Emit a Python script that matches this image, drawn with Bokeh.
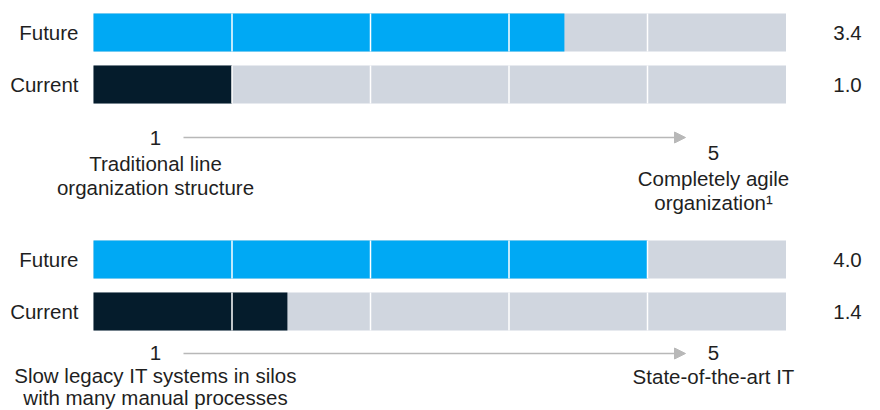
from bokeh.plotting import figure
from bokeh.models import Range1d, Arrow, NormalHead
from bokeh.embed import file_html
from bokeh.resources import INLINE
from bokeh.core.properties import value

# ---- data ----
categories = ["Future", "Current"]
org_scores = [3.4, 1.0]
it_scores = [4.0, 1.4]
scale_ticks = ["1", "5"]
org_min_label = "Traditional line\norganization structure"
org_max_label = "Completely agile\norganization\u00b9"
it_min_label = "Slow legacy IT systems in silos\nwith many manual processes"
it_max_label = "State-of-the-art IT"
scale_max = 5
grid_values = [1, 2, 3, 4]

# ---- layout (pixels) ----
W, H = 880, 410
X0 = 93.0          # pixel where score 0 sits
U = 138.5          # pixels per score unit
FONT = value("Liberation Sans")
TXT = "#1f1f1f"
BLUE = "#00a9f4"
NAVY = "#051c2c"
GREY = "#d0d6df"
ARROW_C = "#b8b8b8"
FS = "20.5px"


def px(x):
    return (x - X0) / U


p = figure(width=W, height=H, output_backend="svg", toolbar_location=None,
           x_range=Range1d(px(0), px(W)), y_range=Range1d(H, 0),
           min_border=0, outline_line_color=None)
p.axis.visible = False
p.grid.visible = False
p.background_fill_color = "white"
p.border_fill_color = "white"

BAR_H = 38
panels = [
    dict(scores=org_scores, y=[32, 84], arrow_y=137, one=(155, 137), five=(713, 152),
         min_label=org_min_label, min_y=163, max_label=org_max_label, max_y=178, lh=24),
    dict(scores=it_scores, y=[259, 311], arrow_y=353, one=(155, 352), five=(713, 352),
         min_label=it_min_label, min_y=375, max_label=it_max_label, max_y=376, lh=22),
]

for pan in panels:
    ys = pan["y"]
    colors = [BLUE, NAVY]
    # background track
    p.hbar(y=ys, left=0, right=[scale_max] * 2, height=BAR_H, fill_color=GREY, line_color=None)
    # value bars
    p.hbar(y=ys, left=0, right=pan["scores"], height=BAR_H, fill_color=colors, line_color=None)
    # white separators
    for g in grid_values:
        p.segment(x0=[g] * 2, x1=[g] * 2, y0=[y - BAR_H / 2 for y in ys],
                  y1=[y + BAR_H / 2 for y in ys], line_color="white", line_width=1.5)
    # category labels
    p.text(x=[px(78)] * 2, y=ys, text=categories, text_align="right", text_baseline="middle",
           text_font=FONT, text_font_size=FS, text_color=TXT)
    # value labels
    p.text(x=[px(847)] * 2, y=ys, text=[f"{v:.1f}" for v in pan["scores"]], text_align="center",
           text_baseline="middle", text_font=FONT, text_font_size=FS, text_color=TXT)
    # arrow
    p.add_layout(Arrow(x_start=px(183), x_end=px(685), y_start=pan["arrow_y"], y_end=pan["arrow_y"],
                       line_color=ARROW_C, line_width=1.5,
                       end=NormalHead(size=11, fill_color=ARROW_C, line_color=ARROW_C)))
    # scale numbers
    p.text(x=[px(pan["one"][0]), px(pan["five"][0])], y=[pan["one"][1], pan["five"][1]],
           text=scale_ticks, text_align="center", text_baseline="middle",
           text_font=FONT, text_font_size=FS, text_color=TXT)
    # descriptions
    for label, cx, y0 in [(pan["min_label"], 155, pan["min_y"]), (pan["max_label"], 713, pan["max_y"])]:
        lines = label.split("\n")
        p.text(x=[px(cx)] * len(lines), y=[y0 + pan["lh"] * i for i in range(len(lines))], text=lines,
               text_align="center", text_baseline="middle", text_font=FONT,
               text_font_size=FS, text_color=TXT)

open("out.html", "w").write(file_html(p, INLINE))
